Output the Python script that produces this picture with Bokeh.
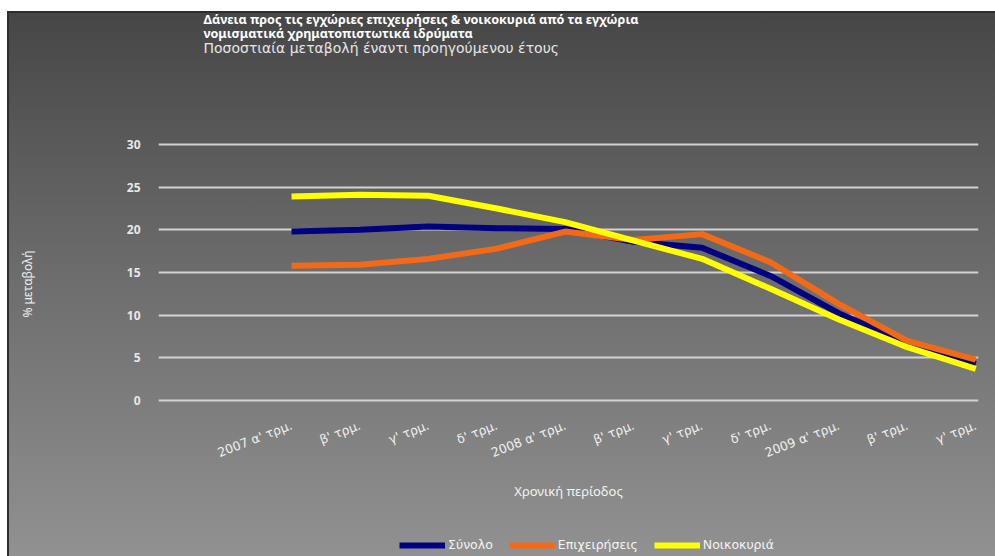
from bokeh.plotting import figure
from bokeh.models import Range1d, FixedTicker, Label, Legend, LegendItem
from bokeh.embed import file_html
from bokeh.resources import INLINE

categories = ["2007 α' τρμ.", "β' τρμ.", "γ' τρμ.", "δ' τρμ.", "2008 α' τρμ.",
              "β' τρμ.", "γ' τρμ.", "δ' τρμ.", "2009 α' τρμ.", "β' τρμ.", "γ' τρμ."]
synolo = [19.8, 20.0, 20.4, 20.2, 20.1, 18.6, 17.9, 14.6, 10.2, 6.8, 4.3]
epixeiriseis = [15.8, 15.9, 16.6, 17.8, 19.8, 18.8, 19.5, 16.2, 11.3, 7.0, 4.8]
noikokyria = [23.9, 24.1, 24.0, 22.5, 20.9, 18.75, 16.6, 13.1, 9.5, 6.25, 3.7]
y_ticks = [0, 5, 10, 15, 20, 25, 30]
series_names = ["Σύνολο", "Επιχειρήσεις", "Νοικοκυριά"]
series_colors = ["#000080", "#f26a17", "#ffff00"]

title_1 = "Δάνεια προς τις εγχώριες επιχειρήσεις & νοικοκυριά από τα εγχώρια"
title_2 = "νομισματικά χρηματοπιστωτικά ιδρύματα"
subtitle = "Ποσοστιαία μεταβολή έναντι προηγούμενου έτους"

FONT = "Noto Sans"
FONT_W = "DejaVu Sans"
xs = list(range(len(categories)))

W, H = 988, 545
p = figure(width=W, height=H, output_backend="svg", toolbar_location=None,
           x_range=Range1d(-1.944, 10.04), y_range=Range1d(-18.28, 45.59),
           min_border_left=151, min_border_right=17, min_border_top=0, min_border_bottom=0)
p.styles = {"margin-left": "7px", "margin-top": "11px",
            "background": "linear-gradient(180deg, #464646 0%, #6a6a6a 45%, #919191 100%)",
            "box-shadow": "inset 2px 2px 0 #2e2e2e"}
p.border_fill_color = None
p.background_fill_color = None
p.outline_line_color = None
p.title.visible = False

# grid
p.xgrid.grid_line_color = None
p.ygrid.grid_line_color = "#d2d2d2"
p.ygrid.grid_line_width = 2

# y axis
p.yaxis.ticker = FixedTicker(ticks=y_ticks)
p.yaxis.axis_line_color = None
p.yaxis.major_tick_line_color = None
p.yaxis.minor_tick_line_color = None
p.yaxis.major_tick_out = 0
p.yaxis.major_tick_in = 0
p.yaxis.major_label_standoff = 18
p.yaxis.major_label_text_font = FONT
p.yaxis.major_label_text_font_size = "12px"
p.yaxis.major_label_text_font_style = "bold"
p.yaxis.major_label_text_color = "#e8e8e8"
p.yaxis.axis_label = "% μεταβολή"
p.yaxis.axis_label_text_font = FONT
p.yaxis.axis_label_text_font_size = "12px"
p.yaxis.axis_label_text_font_style = "normal"
p.yaxis.axis_label_text_color = "#f0f0f0"
p.yaxis.axis_label_standoff = 88

# x axis (placed at y = 0 inside the frame)
p.xaxis.fixed_location = 0
p.xaxis.ticker = FixedTicker(ticks=xs)
p.xaxis.major_label_overrides = {i: c for i, c in enumerate(categories)}
p.xaxis.axis_line_color = None
p.xaxis.major_tick_line_color = None
p.xaxis.minor_tick_line_color = None
p.xaxis.major_tick_out = 0
p.xaxis.major_tick_in = 0
p.xaxis.major_label_orientation = 0.37
p.xaxis.major_label_standoff = 24
p.xaxis.major_label_text_font = FONT_W
p.xaxis.major_label_text_font_size = "12.5px"
p.xaxis.major_label_text_color = "#f0f0f0"
p.xaxis.axis_label = "Χρονική περίοδος"
p.xaxis.axis_label_text_font = FONT
p.xaxis.axis_label_text_font_size = "13px"
p.xaxis.axis_label_text_font_style = "normal"
p.xaxis.axis_label_text_color = "#f4f4f4"
p.xaxis.axis_label_standoff = 12

series = [synolo, epixeiriseis, noikokyria]
items = []
for name, vals, col in zip(series_names, series, series_colors):
    r = p.line(xs, vals, line_color=col, line_width=6, line_join="round", line_cap="butt")
    items.append(LegendItem(label=name, renderers=[r]))

legend = Legend(items=items, orientation="horizontal", location=(241, 4))
legend.background_fill_alpha = 0
legend.border_line_color = None
legend.padding = 1
legend.margin = 0
legend.spacing = 16
legend.glyph_width = 46
legend.glyph_height = 12
legend.label_standoff = 3
legend.label_text_font = FONT_W
legend.label_text_font_size = "12.5px"
legend.label_text_color = "#f4f4f4"
legend.label_height = 12
p.add_layout(legend, "center")

for txt, cy, style, size, col, fnt in [(title_1, 7.5, "bold", "12.6px", "#ffffff", FONT),
                                       (title_2, 22, "bold", "12.6px", "#ffffff", FONT),
                                       (subtitle, 36.5, "normal", "14px", "#e6e6e6", FONT_W)]:
    p.add_layout(Label(x=45, y=H - cy, x_units="screen", y_units="screen", text=txt,
                       text_baseline="middle", text_align="left", text_font=fnt,
                       text_font_size=size, text_font_style=style, text_color=col))

open("out.html", "w").write(file_html(p, INLINE))
